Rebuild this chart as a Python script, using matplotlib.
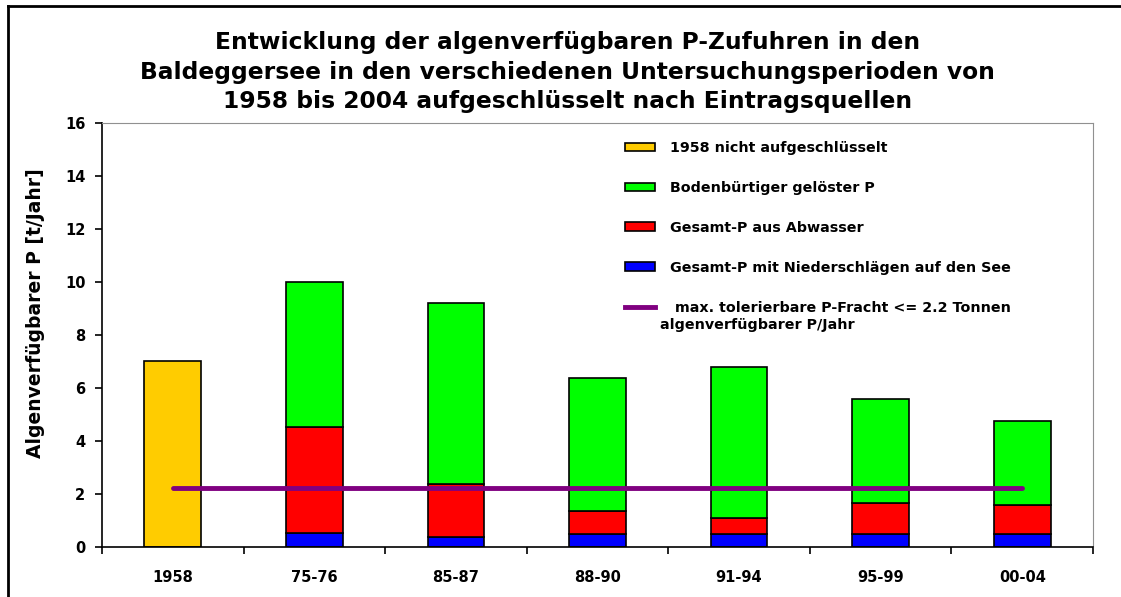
import matplotlib
matplotlib.use("Agg")
import matplotlib.pyplot as plt
import numpy as np
from matplotlib.patches import Rectangle
from matplotlib.lines import Line2D

plt.rcParams['font.family'] = ['DejaVu Sans']

categories = ["1958", "75-76", "85-87", "88-90", "91-94", "95-99", "00-04"]
undivided = [7.0, 0, 0, 0, 0, 0, 0]
niederschlag = [0, 0.50, 0.38, 0.47, 0.47, 0.48, 0.47]
abwasser = [0, 4.03, 2.00, 0.89, 0.60, 1.16, 1.09]
boden = [0, 5.47, 6.82, 5.01, 5.71, 3.92, 3.18]
limit_value = 2.2

labels = ["1958 nicht aufgeschlüsselt", "Bodenbürtiger gelöster P",
          "Gesamt-P aus Abwasser", "Gesamt-P mit Niederschlägen auf den See",
          " max. tolerierbare P-Fracht <= 2.2 Tonnen"]
label_cont = "algenverfügbarer P/Jahr"
c_yellow, c_green, c_red, c_blue, c_purple = "#FFCC00", "#00FF00", "#FF0000", "#0000FF", "#800080"

fig = plt.figure(figsize=(11.21, 5.97), dpi=100)
ax = fig.add_axes([0.0910, 0.0843, 0.884, 0.710])

x = np.arange(len(categories))
w = 0.40
ekw = dict(edgecolor="black", linewidth=1.2)
ax.bar(x, undivided, w, color=c_yellow, **ekw)
ax.bar(x[1:], niederschlag[1:], w, color=c_blue, **ekw)
bot = np.array(niederschlag)
ax.bar(x[1:], abwasser[1:], w, bottom=bot[1:], color=c_red, **ekw)
bot2 = bot + np.array(abwasser)
ax.bar(x[1:], boden[1:], w, bottom=bot2[1:], color=c_green, **ekw)
ax.plot([x[0], x[-1]], [limit_value, limit_value], color=c_purple, lw=3.5,
        solid_capstyle='round', zorder=5)

ax.set_xlim(-0.5, len(categories) - 0.5)
ax.set_ylim(0, 16)
ax.set_yticks(np.arange(0, 17, 2))
ax.set_yticklabels([str(v) for v in range(0, 17, 2)], fontweight='bold', fontsize=10.5)
ax.set_xticks(x)
ax.set_xticklabels(categories, fontweight='bold', fontsize=10.5)
ax.set_xticks(np.arange(-0.5, len(categories)), minor=True)
ax.tick_params(axis='x', which='major', length=0, pad=17)
ax.tick_params(axis='x', which='minor', length=5, direction='out', width=1.2)
ax.tick_params(axis='y', length=5, direction='out', width=1.2, pad=7)
ax.set_ylabel("Algenverfügbarer P [t/Jahr]", fontweight='bold', fontsize=13.5)
ax.yaxis.set_label_coords(-0.0575, 0.552)
for s in ['top', 'right']:
    ax.spines[s].set_color('#909090')
for s in ['left', 'bottom']:
    ax.spines[s].set_color('black')
    ax.spines[s].set_linewidth(1.2)

fig.text(0.506, 1 - 72 / 597,
         "Entwicklung der algenverfügbaren P-Zufuhren in den\n"
         "Baldeggersee in den verschiedenen Untersuchungsperioden von\n"
         "1958 bis 2004 aufgeschlüsselt nach Eintragsquellen",
         fontweight='bold', fontsize=16.8, ha='center', va='center',
         multialignment='center', linespacing=1.38)

handles = [Rectangle((0, 0), 1, 1, facecolor=c_yellow, edgecolor='black', lw=1.2),
           Rectangle((0, 0), 1, 1, facecolor=c_green, edgecolor='black', lw=1.2),
           Rectangle((0, 0), 1, 1, facecolor=c_red, edgecolor='black', lw=1.2),
           Rectangle((0, 0), 1, 1, facecolor=c_blue, edgecolor='black', lw=1.2),
           Line2D([0], [0], color=c_purple, lw=3.5)]
leg = ax.legend(handles, labels, loc='upper left', bbox_to_anchor=(0.528, 0.957),
                frameon=False, prop=dict(weight='bold', size=10.3),
                borderpad=0, borderaxespad=0,
                handlelength=2.05, handleheight=0.56, labelspacing=1.81, handletextpad=1.1)

fig.canvas.draw()
last = leg.get_texts()[-1]
bb = last.get_window_extent()
inv = fig.transFigure.inverted()
x0, y0 = inv.transform((bb.x0 - 10, bb.y0 - 3))
fig.text(x0, y0, label_cont, fontweight='bold', fontsize=10.3, ha='left', va='top')

# figure frame (left and top visible)
fig.add_artist(Line2D([8 / 1121, 8 / 1121], [0, 1 - 6 / 597], transform=fig.transFigure, color='black', lw=2))
fig.add_artist(Line2D([8 / 1121, 1], [1 - 6 / 597, 1 - 6 / 597], transform=fig.transFigure, color='black', lw=2))

fig.savefig("out.png", dpi=100)
